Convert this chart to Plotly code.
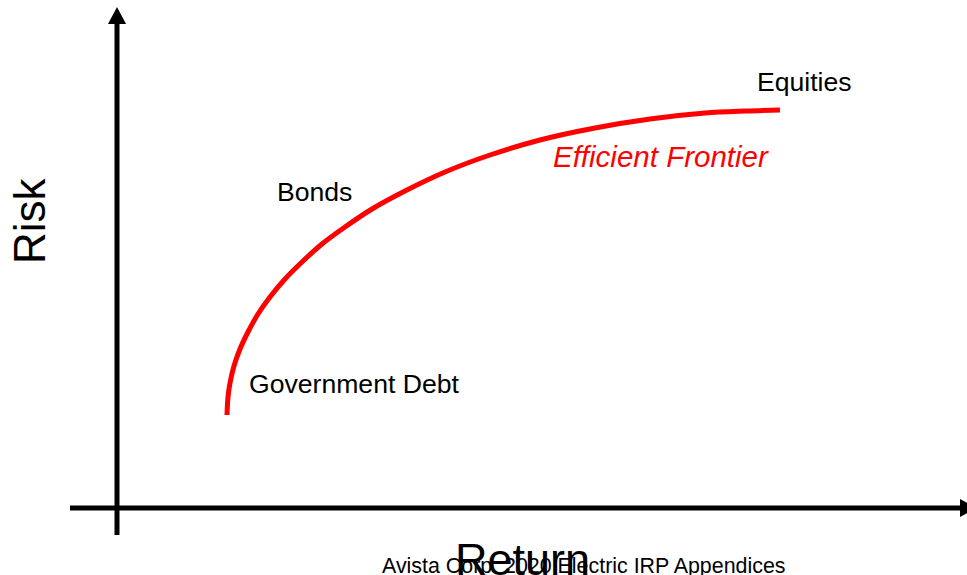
import plotly.graph_objects as go

# Efficient frontier curve: return (x) vs risk (y), in chart units
frontier_return = [110, 111, 113, 117, 123, 131, 141, 153, 168, 185, 205, 228,
                   255, 288, 328, 373, 423, 478, 533, 588, 628, 663]
frontier_risk = [93, 111, 125, 142, 159, 176, 194, 211, 229, 246, 264, 281,
                 299, 317, 336, 353, 368, 380, 389, 395, 397, 398]

# Asset class labels and their positions along the frontier
asset_labels = ["Government Debt", "Bonds", "Equities"]
asset_x = [130, 158, 638]
asset_y = [124, 316, 426]

FONT = "Arial, Liberation Sans, sans-serif"

fig = go.Figure()
fig.add_trace(go.Scatter(
    x=frontier_return, y=frontier_risk, mode="lines",
    line=dict(color="#ff0000", width=5, shape="spline", smoothing=1.0),
    hoverinfo="skip", showlegend=False,
))

annotations = []
for label, ax_, ay_ in zip(asset_labels, asset_x, asset_y):
    annotations.append(dict(x=ax_, y=ay_, text=label, showarrow=False,
                            xanchor="left", yanchor="middle",
                            font=dict(family=FONT, size=26.6, color="black")))

annotations += [
    dict(x=434, y=352, text="<i>Efficient Frontier</i>", showarrow=False,
         xanchor="left", yanchor="middle",
         font=dict(family=FONT, size=29.5, color="#ff0000")),
    dict(x=-88, y=287, text="Risk", showarrow=False, textangle=-90,
         xanchor="center", yanchor="middle",
         font=dict(family=FONT, size=44, color="black")),
    dict(x=405, y=-51, text="Return", showarrow=False,
         xanchor="center", yanchor="middle",
         font=dict(family=FONT, size=45, color="black")),
    dict(x=466, y=-58, text="Avista Corp. 2020 Electric IRP Appendices",
         showarrow=False, xanchor="center", yanchor="middle",
         font=dict(family=FONT, size=21.4, color="black")),
]

shapes = [
    # vertical (risk) axis with arrow head
    dict(type="line", xref="x", yref="y", x0=0, x1=0, y0=-27, y1=486,
         line=dict(color="black", width=5)),
    dict(type="path", xref="x", yref="y", path="M -9 484 L 9 484 L 0 501 Z",
         fillcolor="black", line=dict(color="black", width=0)),
    # horizontal (return) axis with arrow head
    dict(type="line", xref="x", yref="y", x0=-47, x1=845, y0=0, y1=0,
         line=dict(color="black", width=5)),
    dict(type="path", xref="x", yref="y", path="M 843 9 L 843 -9 L 860 0 Z",
         fillcolor="black", line=dict(color="black", width=0)),
]

fig.update_layout(
    width=967, height=575,
    margin=dict(l=0, r=0, t=0, b=0),
    paper_bgcolor="white", plot_bgcolor="white",
    xaxis=dict(range=[-117, 850], visible=False, fixedrange=True),
    yaxis=dict(range=[-67, 508], visible=False, fixedrange=True),
    annotations=annotations, shapes=shapes, showlegend=False,
)

fig.write_html("out.html")
